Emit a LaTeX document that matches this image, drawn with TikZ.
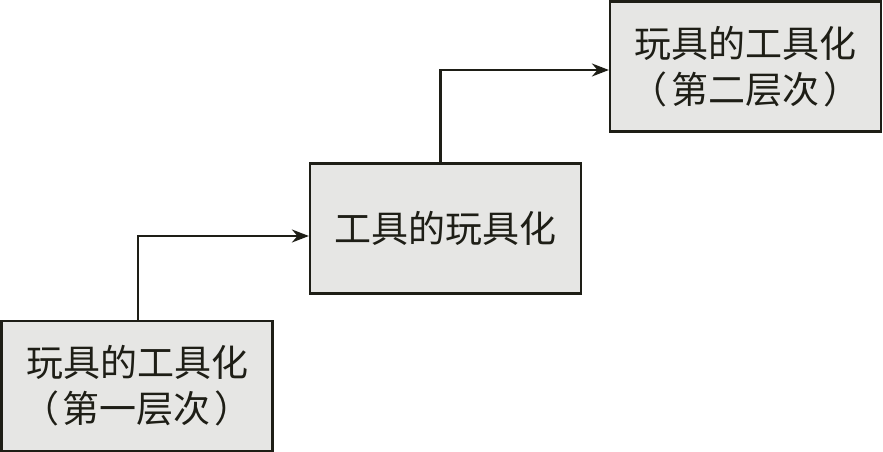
\documentclass[tikz,border=0pt]{standalone}
\usepackage{fontspec}
\newfontfamily\cjk{Noto Sans CJK SC}
\usetikzlibrary{arrows.meta}
\definecolor{boxfill}{HTML}{E6E6E4}
\definecolor{ink}{HTML}{1E1E16}
\tikzset{
  stagebox/.style={draw=ink, fill=boxfill, line width=2.2pt, minimum width=271pt, minimum height=130pt,
    align=center, inner sep=0pt, text=ink, font=\cjk\fontsize{37}{46}\selectfont},
  arr/.style={draw=ink, line width=2.2pt, -{Stealth[length=17pt,width=13pt]}}
}
\begin{document}
\begin{tikzpicture}[x=1pt,y=-1pt]
\useasboundingbox (0,0) rectangle (883,452);
\node[stagebox] (b1) at (137,386) {玩具的工具化\\（\hspace{4pt}第一层次\hspace{4pt}）};
\node[stagebox] (b2) at (445.5,228.5) {工具的玩具化};
\node[stagebox] (b3) at (745.5,66.5) {玩具的工具化\\（\hspace{4pt}第二层次\hspace{4pt}）};
\draw[arr] ([xshift=1pt]b1.north) |- ([yshift=-7.5pt]b2.west);
\draw[arr] ([xshift=-5pt]b2.north) |- ([yshift=-3.5pt]b3.west);
\end{tikzpicture}
\end{document}
